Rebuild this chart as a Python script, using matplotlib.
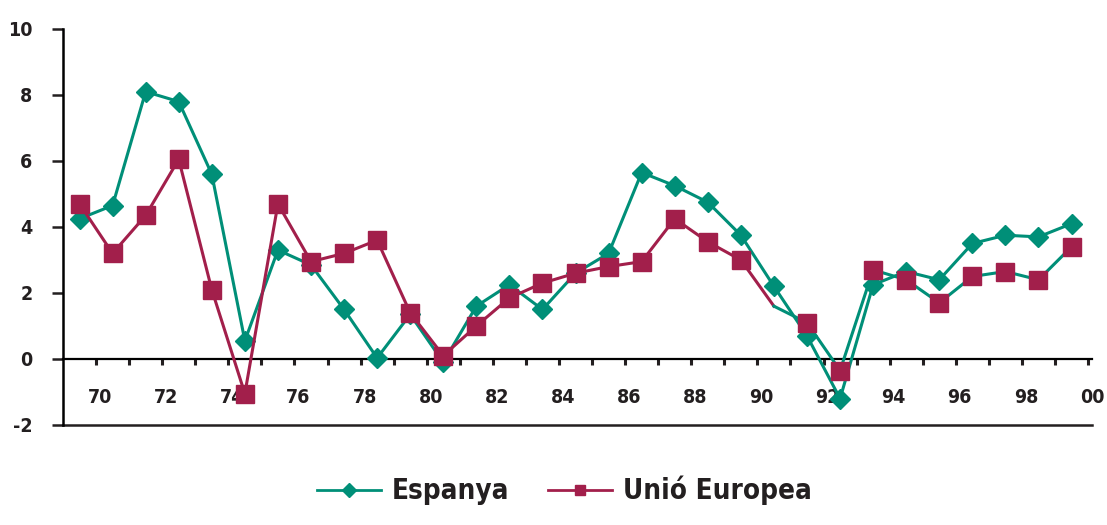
import matplotlib
matplotlib.use("Agg")
import matplotlib.pyplot as plt
from matplotlib.lines import Line2D
import numpy as np

# Annual growth, 1969-1999 (one value per year slot)
years = list(range(1969, 2000))
espanya = [4.25, 4.65, 8.1, 7.8, 5.6, 0.55, 3.3, 2.85, 1.5, 0.03,
           1.35, -0.1, 1.6, 2.25, 1.5, 2.6, 3.2, 5.65, 5.25, 4.75,
           3.75, 2.2, 0.7, -1.2, 2.25, 2.65, 2.4, 3.5, 3.75, 3.7, 4.1]
unio_europea = [4.7, 3.2, 4.35, 6.05, 2.1, -1.05, 4.7, 2.95, 3.2, 3.6,
                1.4, 0.1, 1.0, 1.85, 2.3, 2.6, 2.8, 2.95, 4.25, 3.55,
                3.0, 1.6, 1.1, -0.35, 2.7, 2.4, 1.7, 2.5, 2.65, 2.4, 3.4]
tick_labels = ["70", "72", "74", "76", "78", "80", "82", "84",
               "86", "88", "90", "92", "94", "96", "98", "00"]
y_ticks = [-2, 0, 2, 4, 6, 8, 10]

TEAL = "#008F78"
CRIMSON = "#A21F4B"
INK = "#231F20"

plt.rcParams["font.family"] = ["DejaVu Sans"]
plt.rcParams["font.stretch"] = "condensed"
plt.rcParams["font.weight"] = "bold"

fig = plt.figure(figsize=(11.07, 5.25), dpi=100)
ax = fig.add_axes([0.0569, 0.1905, 0.9296, 0.7543])

n = len(years)
x = np.arange(n) + 0.5

ax.plot(x, espanya, color=TEAL, lw=2.2, marker="D", ms=10,
        mec=TEAL, mfc=TEAL, zorder=3)

# EU line: drawn in crimson up to 1990, the tail segments come out teal in the source
split = years.index(1990)
ax.plot(x[:split + 1], unio_europea[:split + 1], color=CRIMSON, lw=2.2, zorder=4)
ax.plot(x[split:], unio_europea[split:], color=TEAL, lw=2.2, zorder=4)
mask = [i for i in range(n) if i != split]
ax.plot(x[mask], np.array(unio_europea)[mask], ls="none", marker="s", ms=13,
        mfc=CRIMSON, mec=CRIMSON, zorder=5)

ax.set_xlim(0, n)
ax.set_ylim(-2, 10)

# zero line doubles as the category axis
for sp in ["top", "right"]:
    ax.spines[sp].set_visible(False)
ax.spines["left"].set_linewidth(1.8)
ax.spines["bottom"].set_position(("data", 0))
ax.spines["bottom"].set_linewidth(1.6)
ax.axhline(-2, color=INK, lw=1.8, clip_on=False)

ax.set_xticks(np.arange(1, n + 1))
ax.set_xticklabels([])
ax.tick_params(axis="x", which="major", direction="out", length=4, width=2.2, color=INK)
ax.set_xticks(np.arange(1, n + 1, 2) + 0.12, minor=True)
ax.set_xticklabels(tick_labels, minor=True)
ax.tick_params(axis="x", which="minor", length=0, pad=21, labelsize=14, labelcolor=INK)

ax.set_yticks(y_ticks)
ax.set_yticklabels([str(v) for v in y_ticks])
ax.tick_params(axis="y", direction="out", length=8, width=1.8, pad=14,
               labelsize=14, labelcolor=INK, color=INK)

handles = [
    Line2D([], [], color=TEAL, lw=2, marker="D", ms=7, mfc=TEAL, mec=TEAL),
    Line2D([], [], color=CRIMSON, lw=2, marker="s", ms=6.5, mfc=CRIMSON, mec=CRIMSON),
]
fig.legend(handles, ["Espanya", "Unió Europea"], loc="lower center",
           bbox_to_anchor=(0.51, -0.01), ncol=2, frameon=False,
           prop={"size": 20, "weight": "bold", "stretch": "condensed"}, labelcolor=INK,
           handlelength=2.3, columnspacing=1.4, handletextpad=0.4)

fig.savefig("out.png", dpi=100)
